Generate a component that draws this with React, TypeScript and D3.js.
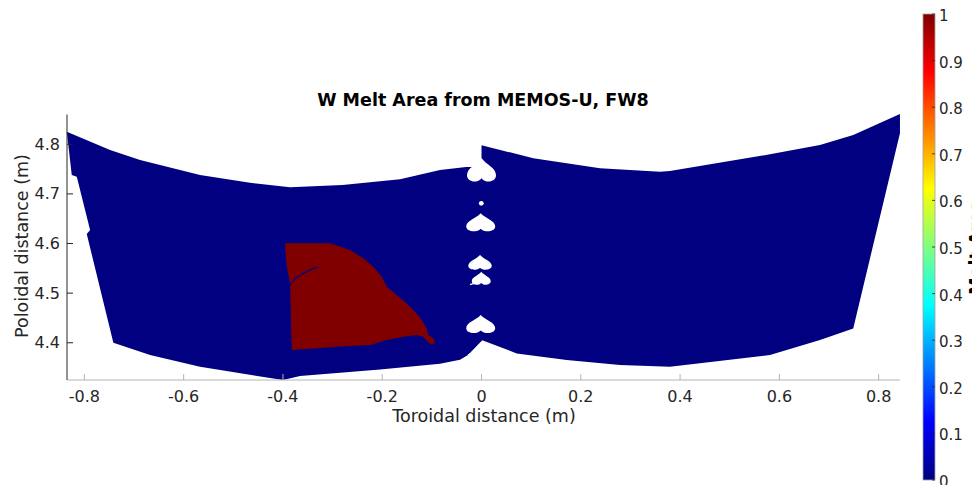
import React from "react";
import * as d3 from "d3";

// Toroidal (m), poloidal (m) outlines of the two tile halves
const leftPanel: [number, number][] = [
  [-0.8354, 4.8254], [-0.7482, 4.7885], [-0.6878, 4.7683], [-0.567, 4.7382],
  [-0.4663, 4.7225], [-0.3857, 4.7135], [-0.2800, 4.7180], [-0.1641, 4.7294],
  [-0.0836, 4.7482], [-0.0312, 4.7542], [0.002, 4.7542], [0.002, 4.4054],
  [-0.0272, 4.3752], [-0.0433, 4.3657], [-0.0836, 4.3577], [-0.2044, 4.346],
  [-0.3655, 4.3329], [-0.3998, 4.3248], [-0.567, 4.3516], [-0.6677, 4.3752],
  [-0.7416, 4.4], [-0.7952, 4.6192], [-0.7885, 4.6272], [-0.8153, 4.7347],
  [-0.8254, 4.7381],
];

const rightPanel: [number, number][] = [
  [0, 4.7982], [0.1043, 4.7718], [0.2387, 4.7516], [0.3595, 4.7448],
  [0.3796, 4.7462], [0.5811, 4.7798], [0.6818, 4.7986], [0.7488, 4.8188],
  [0.8429, 4.8611], [0.8429, 4.8222], [0.7488, 4.429], [0.6818, 4.4054],
  [0.5811, 4.3752], [0.3796, 4.3516], [0.279, 4.355], [0.1716, 4.3651],
  [0.0709, 4.3786], [0, 4.4054],
];

// Region where melt area = 1
const meltRegion: [number, number][] = [
  [-0.3958, 4.6004], [-0.3051, 4.6004], [-0.2649, 4.5869], [-0.2381, 4.5702],
  [-0.2179, 4.5532], [-0.201, 4.5331], [-0.1909, 4.5129], [-0.1708, 4.4962],
  [-0.1507, 4.4794], [-0.1339, 4.4625], [-0.1204, 4.4458], [-0.1104, 4.429],
  [-0.1072, 4.4155], [-0.0971, 4.4089], [-0.0937, 4.3988], [-0.1037, 4.3974],
  [-0.1172, 4.4121], [-0.1305, 4.4155], [-0.1575, 4.4121], [-0.1909, 4.4054],
  [-0.2246, 4.3954], [-0.2916, 4.3919], [-0.3388, 4.3887], [-0.3823, 4.3853],
  [-0.3857, 4.5198], [-0.3923, 4.5532],
];

const meltCrack: [number, number][] = [
  [-0.3857, 4.5163], [-0.3756, 4.5298], [-0.3589, 4.5399], [-0.3388, 4.55], [-0.3287, 4.552],
];

// Gaps between the halves: centre, top, bottom, half width
const holes = [
  { cx: 0.0, top: 4.7724, bottom: 4.724, hw: 0.0292 },
  { cx: -0.0016, top: 4.6609, bottom: 4.6238, hw: 0.0292 },
  { cx: -0.003, top: 4.5768, bottom: 4.5466, hw: 0.0236 },
  { cx: -0.0005, top: 4.5431, bottom: 4.5163, hw: 0.0191 },
  { cx: -0.0016, top: 4.4558, bottom: 4.419, hw: 0.0292 },
];
const holeDot = { cx: -0.0004, cy: 4.681, r: 0.0048 };
const gapSlivers: [number, number][][] = [
  [[-0.0272, 4.3752], [-0.003, 4.3873]],
  [[-0.0232, 4.5173], [-0.0131, 4.5203]],
];

const xTicks = [-0.8, -0.6, -0.4, -0.2, 0, 0.2, 0.4, 0.6, 0.8];
const yTicks = [4.4, 4.5, 4.6, 4.7, 4.8];
const cbTicks = [0, 0.1, 0.2, 0.3, 0.4, 0.5, 0.6, 0.7, 0.8, 0.9, 1];

const xDomain: [number, number] = [-0.835, 0.843];
const yDomain: [number, number] = [4.325, 4.86];

const W = 972;
const H = 485;
const plot = { left: 67, right: 900, top: 114.5, bottom: 380 };
const cb = { x: 923, w: 12, top: 14, bottom: 480 };

const FONT = "'DejaVu Sans', sans-serif";
const AXIS = "#262626";
const TICK_FS = 16;
const LABEL_FS = 17.5;

function jet(t: number): string {
  const c = (v: number) => Math.round(255 * Math.max(0, Math.min(1, v)));
  const r = 1.5 - Math.abs(4 * t - 3);
  const g = 1.5 - Math.abs(4 * t - 2);
  const b = 1.5 - Math.abs(4 * t - 1);
  return `rgb(${c(r)},${c(g)},${c(b)})`;
}

export default function App() {
  const x = d3.scaleLinear().domain(xDomain).range([plot.left, plot.right]);
  const y = d3.scaleLinear().domain(yDomain).range([plot.bottom, plot.top]);
  const cbY = d3.scaleLinear().domain([0, 1]).range([cb.bottom, cb.top]);

  const line = d3
    .line<[number, number]>()
    .x((d) => x(d[0]))
    .y((d) => y(d[1]));
  const poly = (pts: [number, number][]) => line(pts) + "Z";

  const heartPath = (h: { cx: number; top: number; bottom: number; hw: number }) => {
    const cx = x(h.cx);
    const yT = y(h.top);
    const hh = y(h.bottom) - yT;
    const w = x(h.cx + h.hw) - cx;
    const p = d3.path();
    p.moveTo(cx, yT);
    p.bezierCurveTo(cx - 0.35 * w, yT + 0.3 * hh, cx - w, yT + 0.4 * hh, cx - w, yT + 0.72 * hh);
    p.bezierCurveTo(cx - w, yT + 1.02 * hh, cx - 0.25 * w, yT + 1.06 * hh, cx, yT + 0.84 * hh);
    p.bezierCurveTo(cx + 0.25 * w, yT + 1.06 * hh, cx + w, yT + 1.02 * hh, cx + w, yT + 0.72 * hh);
    p.bezierCurveTo(cx + w, yT + 0.4 * hh, cx + 0.35 * w, yT + 0.3 * hh, cx, yT);
    p.closePath();
    return p.toString();
  };

  const gradStops = d3.range(0, 65).map((i) => i / 64);

  return (
    <svg
      width={W}
      height={H}
      style={{ position: "absolute", left: 0, top: 0, background: "#fff" }}
      fontFamily={FONT}
    >
      <defs>
        <linearGradient id="jetGrad" x1="0" y1="1" x2="0" y2="0">
          {gradStops.map((t) => (
            <stop key={t} offset={t} stopColor={jet(t)} />
          ))}
        </linearGradient>
      </defs>

      {/* tile surfaces */}
      <path d={poly(leftPanel)} fill={jet(0)} />
      <path d={poly(rightPanel)} fill={jet(0)} />
      <path d={poly(meltRegion)} fill={jet(1)} />
      <path d={line(meltCrack) ?? ""} fill="none" stroke={jet(0)} strokeWidth={1.2} />

      {/* gaps between the halves */}
      {holes.map((h, i) => (
        <path key={i} d={heartPath(h)} fill="#fff" />
      ))}
      <ellipse
        cx={x(holeDot.cx)}
        cy={y(holeDot.cy)}
        rx={x(holeDot.r) - x(0)}
        ry={y(holeDot.cy - holeDot.r) - y(holeDot.cy)}
        fill="#fff"
      />
      {gapSlivers.map((s, i) => (
        <path key={i} d={line(s) ?? ""} stroke="#fff" strokeWidth={1.4} fill="none" />
      ))}

      {/* axes */}
      <line x1={plot.left} x2={plot.right} y1={plot.bottom} y2={plot.bottom} stroke="#b4b4b4" strokeWidth={1} />
      <line x1={plot.left} x2={plot.left} y1={plot.top} y2={plot.bottom} stroke={AXIS} strokeWidth={1} />
      {xTicks.map((t) => (
        <g key={t}>
          <line x1={x(t)} x2={x(t)} y1={plot.bottom} y2={plot.bottom - 6} stroke="#b4b4b4" />
          <text x={x(t)} y={396} textAnchor="middle" dominantBaseline="central" fontSize={TICK_FS} fill={AXIS}>
            {t === 0 ? "0" : String(t)}
          </text>
        </g>
      ))}
      {yTicks.map((t) => (
        <g key={t}>
          <line x1={plot.left} x2={plot.left + 6} y1={y(t)} y2={y(t)} stroke={AXIS} />
          <text x={60} y={y(t)} textAnchor="end" dominantBaseline="central" fontSize={TICK_FS} fill={AXIS}>
            {t.toFixed(1)}
          </text>
        </g>
      ))}
      <text x={484} y={416} textAnchor="middle" dominantBaseline="central" fontSize={LABEL_FS} fill={AXIS}>
        Toroidal distance (m)
      </text>
      <text
        transform={`translate(22,246) rotate(-90)`}
        textAnchor="middle"
        dominantBaseline="central"
        fontSize={LABEL_FS}
        fill={AXIS}
      >
        Poloidal distance (m)
      </text>
      <text x={483} y={100} textAnchor="middle" dominantBaseline="central" fontSize={LABEL_FS} fontWeight="bold" fill="#000">
        W Melt Area from MEMOS-U, FW8
      </text>

      {/* colour bar */}
      <rect x={cb.x} y={cb.top} width={cb.w} height={cb.bottom - cb.top} fill="url(#jetGrad)" stroke="#a0a0a0" strokeWidth={0.8} />
      {cbTicks.map((t) => (
        <g key={t}>
          <line x1={cb.x + cb.w} x2={cb.x + cb.w - 3} y1={cbY(t)} y2={cbY(t)} stroke={AXIS} strokeWidth={0.8} />
          <text x={939} y={cbY(t) + 2} dominantBaseline="central" fontSize={15} fill={AXIS}>
            {String(t)}
          </text>
        </g>
      ))}
      <text
        transform={`translate(982,${(cb.top + cb.bottom) / 2}) rotate(-90)`}
        textAnchor="middle"
        fontSize={LABEL_FS}
        fontWeight="bold"
        fill="#000"
      >
        Melt Area
      </text>
    </svg>
  );
}
